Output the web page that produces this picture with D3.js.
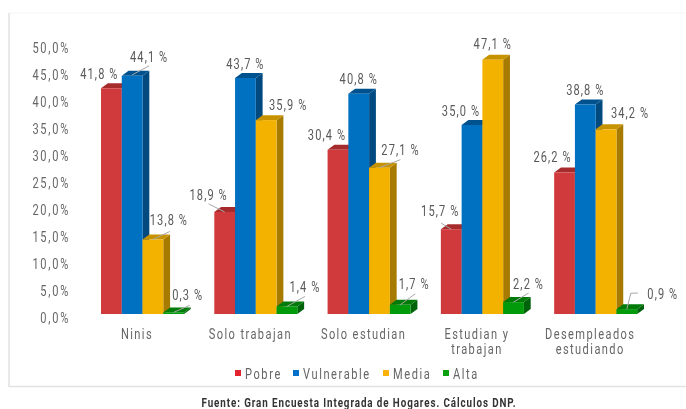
<!DOCTYPE html>
<html><head><meta charset="utf-8">
<script src="https://cdn.jsdelivr.net/npm/d3@7"></script>
<style>
html,body{margin:0;padding:0;background:#fff}
svg{display:block;filter:blur(0.55px)}
text{font-family:"Roboto",sans-serif}
</style></head><body>
<svg id="c" width="686" height="409"></svg>
<script>
const categories = ["Ninis","Solo trabajan","Solo estudian","Estudian y\ntrabajan","Desempleados\nestudiando"];
const seriesNames = ["Pobre","Vulnerable","Media","Alta"];
const pobre = [41.8,18.9,30.4,15.7,26.2];
const vulnerable = [44.1,43.7,40.8,35.0,38.8];
const media = [13.8,35.9,27.1,47.1,34.2];
const alta = [0.3,1.4,1.7,2.2,0.9];
const yTicks = [0,5,10,15,20,25,30,35,40,45,50];
const source = "Fuente: Gran Encuesta Integrada de Hogares. Cálculos DNP.";

// layout only: label offsets from each bar's top-centre, by series then category
const labelOffsets = [
 [[-12,-14],[-16,-17],[-11,-15],[-11,-18],[-12,-16]],
 [[17,-19],[0,-14],[0,-15],[-11,-14],[0,-14]],
 [[16,-19.5],[22,-15],[21,-18],[0,-16],[24,-16]],
 [[14,-17],[18,-19],[14,-21],[15,-18],[36,-15]]
];
// leader lines: [series, category, relative polyline]
const leaders = [
 [1,0,[[0,-1],[17,-10]]],[2,0,[[0,0],[17,-8]]],[3,0,[[0,0],[16,-7]]],
 [0,1,[[-16,-8],[0,0]]],[3,1,[[0,0],[18,-10]]],
 [2,2,[[0,0],[21,-8]]],[3,2,[[0,0],[15,-11]]],
 [0,3,[[-10,-6],[0,0]]],[3,3,[[0,0],[15,-9]]],
 [3,4,[[0,0],[4,-16],[11,-16]]]
];
const values = [pobre,vulnerable,media,alta];
const front = ["#D13A3D","#0070C0","#F3B200","#009A0A"];
const topFace = ["#A62B2D","#00528F","#C79200","#007A08"];
const sideFace = ["#8E2527","#004A80","#A67B00","#00620A"];
const swatch = ["#E3242F","#0070C8","#F9B10C","#0AA00E"];
const legendX = [235,293,383,443];
const grey = "#595959";
const narrow = 0.79;

const svg = d3.select("#c");
const y = d3.scaleLinear().domain([0,50]).range([314,44]);
const x = d3.scaleBand().domain(d3.range(categories.length)).range([101,637.2]).paddingInner(0.267).paddingOuter(0);
const xs = d3.scaleBand().domain(d3.range(seriesNames.length)).range([0,x.bandwidth()]);
const dx = 6.8, dy = 5;

// frame
svg.append("path").attr("d","M686,13H9V386.5H686").attr("fill","none").attr("stroke","#f4f4f4").attr("stroke-width",1);
svg.append("path").attr("d","M9,13V386.5H686").attr("fill","none").attr("stroke","#e2e2e2").attr("stroke-width",1.4);

// y axis
const yAxis = svg.append("g").attr("transform","translate(70,4)")
  .call(d3.axisLeft(y).tickValues(yTicks).tickSize(0).tickPadding(0).tickFormat(d=>d3.format(".1f")(d).replace(".",",")+"%"));
yAxis.select(".domain").remove();
yAxis.selectAll("text").attr("font-size",14).attr("fill","#666").attr("letter-spacing",2.2).attr("transform",`scale(${narrow},1)`).style("font-family",null);

// x axis
const xAxis = svg.append("g").attr("transform","translate(-5.5,328)")
  .call(d3.axisBottom(x).tickSize(0).tickPadding(0).tickFormat(()=>""));
xAxis.select(".domain").remove();
xAxis.selectAll(".tick text").each(function(d){
  const t = d3.select(this).attr("font-size",14).attr("fill","#666").attr("letter-spacing",1.8).attr("y",0).attr("dy",null)
    .attr("transform",`scale(${narrow},1)`);
  t.style("font-family",null);
  categories[d].split("\n").forEach((s,i)=>{
    t.append("tspan").attr("x",0).attr("y",11+i*15).text(s);
  });
});

// bars
const pts = a=>a.map(p=>p.join(",")).join(" ");
categories.forEach((c,ci)=>{
  const g = svg.append("g").attr("class","group").attr("transform",`translate(${x(ci)},0)`);
  const rows = seriesNames.map((s,si)=>({si,v:values[si][ci]}));
  const bar = g.selectAll("g.bar").data(rows).join("g").attr("class","bar");
  bar.append("polygon").attr("fill",d=>sideFace[d.si]).attr("points",d=>{
    const a=xs(d.si)+xs.bandwidth(),t=y(d.v),b=y(0);
    return pts([[a,t],[a+dx,t-dy],[a+dx,b-dy],[a,b]]);
  });
  bar.append("polygon").attr("fill",d=>topFace[d.si]).attr("points",d=>{
    const a=xs(d.si),w=xs.bandwidth(),t=y(d.v);
    return pts([[a,t],[a+dx,t-dy],[a+w+dx,t-dy],[a+w,t]]);
  });
  bar.append("rect").attr("fill",d=>front[d.si])
    .attr("x",d=>xs(d.si)).attr("width",xs.bandwidth())
    .attr("y",d=>y(d.v)).attr("height",d=>y(0)-y(d.v));
});

const ax = (si,ci)=>x(ci)+xs(si)+xs.bandwidth()/2;
// leaders
svg.append("g").selectAll("polyline").data(leaders).join("polyline")
  .attr("fill","none").attr("stroke","#a6a6a6").attr("stroke-width",1)
  .attr("points",d=>pts(d[2].map(p=>[ax(d[0],d[1])+p[0],y(values[d[0]][d[1]])+p[1]])));

// labels
const labels = [];
values.forEach((arr,si)=>arr.forEach((v,ci)=>labels.push({si,ci,v})));
svg.append("g").selectAll("text").data(labels).join("text")
  .attr("text-anchor","middle").attr("dominant-baseline","central")
  .attr("font-size",14).attr("fill",grey).attr("letter-spacing",1.4)
  .attr("transform",d=>`translate(${ax(d.si,d.ci)+labelOffsets[d.si][d.ci][0]},${y(d.v)+labelOffsets[d.si][d.ci][1]}) scale(${narrow},1)`)
  .text(d=>d3.format(".1f")(d.v).replace(".",",")+" %");

// legend
const lg = svg.append("g").selectAll("g").data(seriesNames).join("g")
  .attr("transform",(d,i)=>`translate(${legendX[i]},370)`);
lg.append("rect").attr("width",6).attr("height",6).attr("fill",(d,i)=>swatch[i]);
lg.append("text").attr("transform",`translate(10,8.5) scale(${narrow},1)`).attr("font-size",14).attr("fill","#666").attr("letter-spacing",2).text(d=>d);

// source
svg.append("text").attr("transform","translate(359,407) scale(0.82,1)").attr("text-anchor","middle")
  .attr("font-size",12).attr("font-weight","bold").attr("fill","#333").attr("letter-spacing",1.1).text(source);
</script></body></html>
